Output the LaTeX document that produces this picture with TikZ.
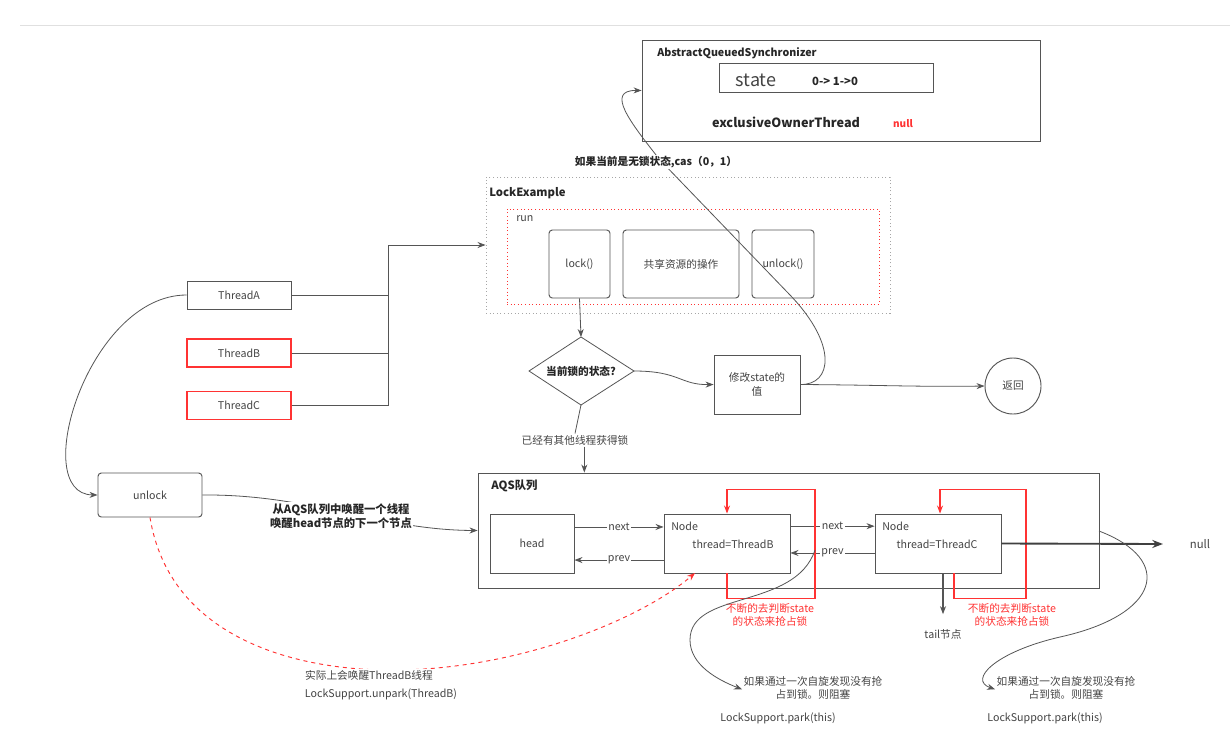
\documentclass[tikz,border=0pt]{standalone}
\usepackage{fontspec}
\setmainfont{Noto Sans CJK SC}
\usetikzlibrary{arrows.meta,calc}
\definecolor{ln}{HTML}{555555}
\definecolor{tx}{HTML}{444444}
\definecolor{rd}{HTML}{FF3333}
\begin{document}
\begin{tikzpicture}[x=0.75pt,y=-0.75pt,
  fs/.style={font=\fontsize{#1}{1.25\dimexpr#1pt\relax}\selectfont},
  fsb/.style={font=\fontsize{#1}{1.25\dimexpr#1pt\relax}\selectfont\bfseries},
  box/.style={draw=ln, line width=0.7pt, fill=white, text=tx, fs=8, inner sep=0pt, align=center},
  rbox/.style={box, rounded corners=2.5pt},
  redbox/.style={fill=white, text=tx, fs=8, inner sep=0pt, align=center, draw=rd, line width=0.8pt},
  lab/.style={text=tx, fs=8, inner sep=1pt, align=center},
  blab/.style={text=black!85, fsb=8.5, inner sep=1pt, align=center},
  redlab/.style={text=rd, fs=8, inner sep=1pt, align=center},
  con/.style={draw=ln, line width=0.6pt},
  arr/.style={con, -{Stealth[length=6pt,width=4.5pt]}},
  redloop/.style={draw=rd, line width=0.8pt, -{Stealth[length=6pt,width=4.5pt]}}
]
\useasboundingbox (0,0) rectangle (1230,746);
\fill[white] (0,0) rectangle (1230,746);
\draw[black!12, line width=0.5pt] (20,25) -- (1230,25);

% ---- AbstractQueuedSynchronizer
\node[box, minimum width=298.5pt, minimum height=75.75pt] (aqsS) at (841,90.5) {};
\node[anchor=west, text=black!85, fsb=8, inner sep=0pt] (aqsT) at (657,53) {AbstractQueuedSynchronizer};
\node[box, minimum width=160.5pt, minimum height=21.75pt] (stb) at (826,77.5) {};
\node[text=tx, fs=13.5, inner sep=0pt] (st) at (756,80) {state};
\node[text=black!85, fsb=8.5, inner sep=0pt] (stv) at (835,81) {0-> 1->0};
\node[text=black!85, fsb=9.5, inner sep=0pt] (eot) at (786,122) {exclusiveOwnerThread};
\node[text=rd, fsb=7.5, inner sep=0pt] (nl) at (903,124) {null};

% ---- LockExample
\node[draw=black!35, dotted, line width=0.7pt, minimum width=303pt, minimum height=102pt, inner sep=0pt] (lex) at (688,245) {};
\node[anchor=west, blab, inner sep=0pt] (lexT) at (489,193) {LockExample};
\node[draw=rd, dotted, line width=0.7pt, minimum width=279pt, minimum height=71.25pt, inner sep=0pt] (run) at (693,256.5) {};
\node[anchor=west, lab, inner sep=0pt] (runT) at (516,219) {run};
\node[rbox, minimum width=45.75pt, minimum height=51pt] (lock) at (579.5,264) {lock()};
\node[rbox, minimum width=87pt, minimum height=51pt] (share) at (681,264) {共享资源的操作};
\node[rbox, minimum width=46.5pt, minimum height=51pt] (unl2) at (783,264) {unlock()};

% ---- Threads
\node[box, minimum width=78pt, minimum height=21pt] (tA) at (239,295) {ThreadA};
\node[redbox, minimum width=78pt, minimum height=21pt] (tB) at (239,353) {ThreadB};
\node[redbox, minimum width=78pt, minimum height=21pt] (tC) at (239,405.5) {ThreadC};
\coordinate (jt) at (388,245);
\coordinate (jb) at (388,405.5);
\draw[con] (tA.east) -- (tA.east -| jt);
\draw[con] (tB.east) -- (tB.east -| jt);
\draw[con] (tC.east) -- (jb) -- (jt);
\draw[arr] (jt) -- (lex.west |- jt);

% ---- decision
\coordinate (dtop) at (581,337);
\coordinate (dbot) at (581,405);
\coordinate (dleft) at (529,371);
\coordinate (dright) at (634,371);
\draw[con, fill=white] (dtop) -- (dright) -- (dbot) -- (dleft) -- cycle;
\node[blab, fsb=8] (dia) at (581,371) {当前锁的状态?};
\draw[arr] (lock.south) -- (dtop);

\node[box, minimum width=64.5pt, minimum height=44.25pt] (mod) at (757,384.5) {修改state的\\值};
\node[draw=ln, line width=0.7pt, circle, minimum size=42pt, inner sep=0pt, text=tx, fs=8] (ret) at (1013,386) {返回};
\draw[arr] (dright) .. controls (680,371) and (680,385) .. (mod.west);
\draw[arr] (mod.east) .. controls (880,385) and (920,387) .. (ret.west);
\draw[arr] (mod.east) .. controls (832,385) and (838,345) .. (790,295) -- (660,160) .. controls (630,122) and (605,90) .. (aqsS.west);
\node[blab, fill=white, fsb=8] (cas) at (656,162) {如果当前是无锁状态,cas（0，1）};

\node[lab] (other) at (575,440) {已经有其他线程获得锁};
\draw[con] (dbot) -- (other.north);

% ---- AQS queue
\node[box, minimum width=465.75pt, minimum height=86.25pt] (aqs) at (788.5,530.5) {};
\draw[arr] ([xshift=7pt]other.south) -- ([xshift=7pt]other.south |- aqs.north);
\node[anchor=west, blab, inner sep=0pt] (aqsT2) at (491,486) {AQS队列};
\node[box, minimum width=63pt, minimum height=44.25pt] (head) at (532,543.5) {head};
\node[box, minimum width=94.5pt, minimum height=44.25pt] (nb) at (727,543.5) {};
\node[box, minimum width=94.5pt, minimum height=44.25pt] (nc) at (938,543.5) {};
\node[anchor=west, lab, inner sep=0pt] (nbN) at (671,526) {Node};
\node[lab, inner sep=0pt] (nbT) at (733,544) {thread=ThreadB};
\node[anchor=west, lab, inner sep=0pt] (ncN) at (882,526) {Node};
\node[lab, inner sep=0pt] (ncT) at (937,544) {thread=ThreadC};

\draw[arr] ([yshift=12.4pt]head.east) -- ([yshift=12.4pt]nb.west) node[midway, fill=white, lab] {next};
\draw[arr] ([yshift=-12.4pt]nb.west) -- ([yshift=-12.4pt]head.east) node[midway, fill=white, lab] {prev};
\draw[arr] ([yshift=13pt]nb.east) -- ([yshift=13pt]nc.west) node[midway, fill=white, lab] {next};
\draw[arr] ([yshift=-7.1pt]nc.west) -- ([yshift=-7.1pt]nb.east) node[midway, fill=white, lab] {prev};

\draw[redloop] (nb.south) -- ++(0,25) -- ++(88,0) -- ++(0,-109) -- ++(-88,0) -- (nb.north);
\draw[redloop] ([xshift=12pt]nc.south) -- ++(0,25) -- ++(72,0) -- ++(0,-109) -- ++(-86,0) -- ([xshift=1.5pt]nc.north);
\node[redlab] (r1) at (770,615) {不断的去判断state\\的状态来抢占锁};
\node[redlab] (r2) at (1012,615) {不断的去判断state\\的状态来抢占锁};

\node[lab, fs=8.5] (nul) at (1200,544) {null};
\draw[draw=black!75, line width=1.4pt, -{Stealth[length=8pt,width=6pt]}] (nc.east) -- ([xshift=-19pt]nul.west);
\node[lab] (tail) at (943,634) {tail节点};
\draw[arr, line width=0.8pt] ([xshift=3.75pt]nc.south) -- ([yshift=10pt]tail.north);

% ---- park labels
\node[lab] (pk1) at (813,688) {如果通过一次自旋发现没有抢\\占到锁。则阻塞};
\node[lab] (ls1) at (778,718) {LockSupport.park(this)};
\node[lab] (pk2) at (1066,688) {如果通过一次自旋发现没有抢\\占到锁。则阻塞};
\node[lab] (ls2) at (1045,718) {LockSupport.park(this)};
\coordinate (s1) at (815,550);
\coordinate (s2) at (1099,531);
\draw[arr] (s1) .. controls (795,610) and (690,590) .. (690,640) .. controls (690,665) and (718,680) .. ([yshift=-1pt]pk1.west);
\draw[arr] (s2) .. controls (1175,560) and (1160,615) .. (1060,637) .. controls (995,652) and (968,680) .. ([yshift=-1pt]pk2.west);

% ---- unlock
\node[rbox, minimum width=78pt, minimum height=33pt] (unl) at (150,495) {unlock};
\draw[arr] (tA.west) .. controls (88,295) and (28,494) .. (unl.west);
\draw[arr] (unl.east) .. controls (310,494) and (380,530) .. (aqs.west);
\node[blab, fill=white, fsb=8.5] (wk) at (341,516) {从AQS队列中唤醒一个线程\\唤醒head节点的下一个节点};

\draw[draw=rd, dashed, line width=0.7pt, -{Stealth[length=6pt,width=4.5pt]}] (unl.south) .. controls (170,640) and (300,672) .. (400,670) .. controls (520,668) and (640,620) .. (695,573);
\node[lab, fill=white] (act) at (369,675) {实际上会唤醒ThreadB线程};
\node[lab] (ulp) at (381,694) {LockSupport.unpark(ThreadB)};
\end{tikzpicture}
\end{document}
